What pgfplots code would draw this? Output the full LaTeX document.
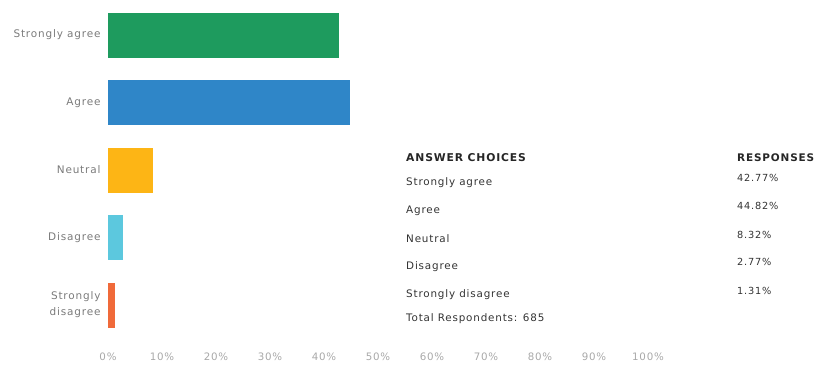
\documentclass[border=0pt]{standalone}
\usepackage{pgfplots}
\pgfplotsset{compat=1.18}
\usepackage{fontspec}
\setmainfont{DejaVu Sans}[LetterSpace=8]
\definecolor{cSA}{HTML}{1E9B5E}
\definecolor{cA}{HTML}{2F86C8}
\definecolor{cN}{HTML}{FDB515}
\definecolor{cD}{HTML}{5CC8DE}
\definecolor{cSD}{HTML}{F06A3A}
\definecolor{lbl}{HTML}{7A7A7A}
\definecolor{tck}{HTML}{A8A8A8}
\definecolor{txt}{HTML}{333333}
\begin{document}
\begin{tikzpicture}[x=1bp,y=1bp]
\useasboundingbox (0,0) rectangle (817,367);
\begin{axis}[
  at={(108bp,28.25bp)}, anchor=south west,
  scale only axis, width=540bp, height=337.5bp,
  xmin=0, xmax=100, ymin=0.5, ymax=5.5, y dir=reverse,
  xbar, bar width=45bp,
  axis line style={draw=none}, major tick length=0pt,
  xtick={0,10,...,100},
  xticklabel={\pgfmathprintnumber{\tick}\%},
  /pgf/number format/assume math mode=true,
  xticklabel style={anchor=base, yshift=-22bp, font=\fontsize{10.3}{11}\selectfont, text=tck},
  ytick={1,2,3,4,5},
  yticklabels={Strongly agree, Agree, Neutral, Disagree, {Strongly\\disagree}},
  yticklabel style={align=right, xshift=-4bp, font=\fontsize{10.5}{16}\selectfont, text=lbl},
]
\addplot[fill=cSA, draw=none, bar shift=0pt] coordinates {(42.77,1)};
\addplot[fill=cA, draw=none, bar shift=0pt] coordinates {(44.82,2)};
\addplot[fill=cN, draw=none, bar shift=0pt] coordinates {(8.32,3)};
\addplot[fill=cD, draw=none, bar shift=0pt] coordinates {(2.77,4)};
\addplot[fill=cSD, draw=none, bar shift=0pt] coordinates {(1.31,5)};
\end{axis}
\begin{scope}[every node/.style={anchor=west, inner sep=0pt, text=txt, font=\fontsize{10.4}{12}\selectfont}]
\node[font=\fontsize{10.8}{12}\selectfont\bfseries, text=black!85] at (406,209) {ANSWER CHOICES};
\node[font=\fontsize{10.5}{12}\selectfont\bfseries, text=black!85] at (737,209) {RESPONSES};
\node at (406,184) {Strongly agree};
\node at (406,156) {Agree};
\node at (406,128) {Neutral};
\node at (406,100) {Disagree};
\node at (406,72) {Strongly disagree};
\node at (406,48) {Total Respondents: 685};
\node[font=\fontsize{9.8}{11}\selectfont] at (737,189) {42.77\%};
\node[font=\fontsize{9.8}{11}\selectfont] at (737,161) {44.82\%};
\node[font=\fontsize{9.8}{11}\selectfont] at (737,132) {8.32\%};
\node[font=\fontsize{9.8}{11}\selectfont] at (737,105) {2.77\%};
\node[font=\fontsize{9.8}{11}\selectfont] at (737,76) {1.31\%};
\end{scope}
\end{tikzpicture}
\end{document}
